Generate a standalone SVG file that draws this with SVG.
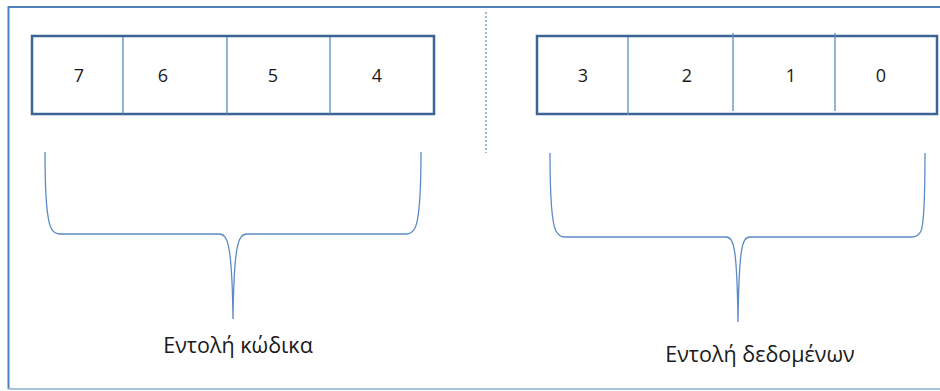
<svg xmlns="http://www.w3.org/2000/svg" width="940" height="391" viewBox="0 0 940 391">
<style>
.frame{fill:none;stroke:#4F81BD;stroke-width:2}
.box{fill:#fff;stroke:#3C6494;stroke-width:2.5}
.div{stroke:#5B8BC6;stroke-width:1.3}
.brace{fill:none;stroke:#5B8BC6;stroke-width:1.3}
.num{font-family:"Open Sans","Liberation Sans",sans-serif;font-size:18px;fill:#1a1a1a;text-anchor:middle}
.lbl{font-family:"Open Sans","Liberation Sans",sans-serif;font-size:21.5px;fill:#1a1a1a;text-anchor:middle}
</style>
<rect width="940" height="391" fill="#fff"/>
<g id="frame">
<path class="frame" d="M941,7 L8.5,7 L8.5,389"/>
<line x1="8.5" y1="389" x2="940" y2="389" stroke="#A7C1E0" stroke-width="2"/>
<line x1="486" y1="12" x2="486" y2="153" stroke="#5B8BC6" stroke-width="1.2" stroke-dasharray="2,2"/>
</g>
<g id="code-bits">
<rect class="box" x="32" y="36" width="402" height="78"/>
<line class="div" x1="123" y1="37" x2="123" y2="114"/>
<line class="div" x1="227" y1="37" x2="227" y2="114"/>
<line class="div" x1="330" y1="37" x2="330" y2="114"/>
<text class="num" x="79" y="82">7</text>
<text class="num" x="163" y="82">6</text>
<text class="num" x="273" y="82">5</text>
<text class="num" x="377" y="82">4</text>
</g>
<g id="data-bits">
<rect class="box" x="537" y="36" width="400" height="78"/>
<line class="div" x1="628" y1="37" x2="628" y2="115"/>
<line class="div" x1="733" y1="33" x2="733" y2="111"/>
<line class="div" x1="835" y1="33" x2="835" y2="111"/>
<text class="num" x="583" y="82">3</text>
<text class="num" x="687" y="82">2</text>
<text class="num" x="791" y="82">1</text>
<text class="num" x="881" y="82">0</text>
</g>
<g id="connectors">
<path class="brace" d="M45,152 C45,195 47,220 51,228 Q54,234 60,234 L219,234 C228,234 232,245 233,319 C234,245 238,234 247,234 L406,234 Q412,234 415,228 C419,220 421,195 421,152"/>
<path class="brace" d="M550,153 C550,198 552,224 556,231 Q559,237 565,237 L726,237 C734,237 737,248 738,322 C739,248 742,237 750,237 L912,237 Q918,237 921,231 C924,224 925,198 925,153"/>
</g>
<g id="label-code"><text class="lbl" x="238" y="353">Εντολή κώδικα</text></g>
<g id="label-data"><text class="lbl" x="760" y="362">Εντολή δεδομένων</text></g>
</svg>
